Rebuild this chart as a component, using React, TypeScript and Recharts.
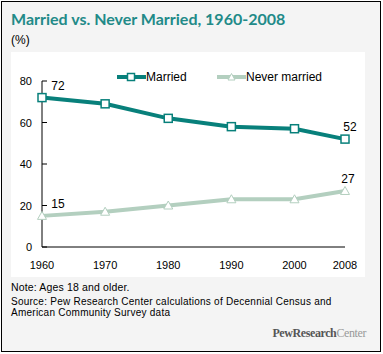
import React from 'react';
import { LineChart, Line, XAxis, YAxis, Legend, LabelList } from 'recharts';

const years = [1960, 1970, 1980, 1990, 2000, 2008];
const married = [72, 69, 62, 58, 57, 52];
const neverMarried = [15, 17, 20, 23, 23, 27];
const yTicks = [0, 20, 40, 60, 80];

const data = years.map((year, i) => ({ year, married: married[i], never: neverMarried[i] }));

const TEAL = '#08807b';
const SAGE = '#b3cfbf';
const FONT = '"Liberation Sans", Arial, sans-serif';

const YTick = (props: any) => {
  const { x, y, payload } = props;
  return (
    <g>
      <line x1={x} x2={x + 5} y1={y} y2={y} stroke="#000" strokeWidth={1} />
      <text x={x - 10} y={y} dy={4} textAnchor="end" fontSize={11} fontFamily={FONT} fill="#000">
        {payload.value}
      </text>
    </g>
  );
};

const XTick = (props: any) => {
  const { x, y, payload } = props;
  return (
    <text x={x} y={y + 22} textAnchor="middle" fontSize={11} fontFamily={FONT} fill="#000">
      {payload.value}
    </text>
  );
};

const SquareDot = (props: any) => {
  const { cx, cy, index } = props;
  return <rect key={index} x={cx - 4} y={cy - 4} width={8} height={8} fill="#fff" stroke={TEAL} strokeWidth={1.5} />;
};

const TriangleDot = (props: any) => {
  const { cx, cy, index } = props;
  return (
    <path
      key={index}
      d={`M${cx},${cy - 4.5} L${cx + 4.5},${cy + 3.5} L${cx - 4.5},${cy + 3.5} Z`}
      fill="#fff"
      stroke={SAGE}
      strokeWidth={1}
    />
  );
};

const endLabel = (offsets: Record<number, [number, number]>) => (props: any) => {
  const { x, y, value, index } = props;
  const off = offsets[index];
  if (!off) return null;
  return (
    <text x={x + off[0]} y={y + off[1]} dy={4} textAnchor="middle" fontSize={12} fontFamily={FONT} fill="#000">
      {value}
    </text>
  );
};

const LegendContent = () => (
  <div style={{ display: 'flex', alignItems: 'center', fontFamily: FONT, fontSize: 12, color: '#000' }}>
    <svg width={29} height={10}>
      <line x1={0} x2={29} y1={5} y2={5} stroke={TEAL} strokeWidth={4} strokeLinecap="round" />
      <rect x={10.5} y={1.5} width={7} height={7} fill="#fff" stroke={TEAL} strokeWidth={1.5} />
    </svg>
    <span style={{ width: 71 }}>Married</span>
    <svg width={29} height={10}>
      <line x1={0} x2={29} y1={5} y2={5} stroke={SAGE} strokeWidth={4} strokeLinecap="round" />
      <path d="M14.5,1.5 L18,8 L11,8 Z" fill="#fff" stroke={SAGE} strokeWidth={1} />
    </svg>
    <span>Never married</span>
  </div>
);

export default function App() {
  return (
    <div
      style={{
        position: 'absolute',
        left: 0,
        top: 0,
        width: 378,
        height: 349,
        margin: 1,
        border: '1px solid #000',
        background: '#f4f4f4',
        fontFamily: FONT,
      }}
    >
      <div
        style={{
          position: 'absolute',
          left: 9,
          top: 7,
          fontFamily: 'Lato, sans-serif',
          fontWeight: 'bold',
          fontSize: 16,
          lineHeight: '19px',
          color: '#228a88',
          whiteSpace: 'nowrap',
        }}
      >
        Married vs. Never Married, 1960-2008
      </div>
      <div style={{ position: 'absolute', left: 9, top: 31, fontSize: 12, color: '#000' }}>(%)</div>
      <div style={{ position: 'absolute', left: 9, top: 50, width: 354, height: 225, background: '#fff' }}>
        <LineChart width={354} height={225} data={data} margin={{ top: 29, right: 20, bottom: 0, left: 1 }}>
          <XAxis
            dataKey="year"
            type="number"
            domain={[1960, 2008]}
            ticks={years}
            axisLine={{ stroke: '#000' }}
            tickLine={false}
            tickSize={0}
            tickMargin={0}
            height={30}
            tick={<XTick />}
            interval={0}
          />
          <YAxis
            domain={[0, 80]}
            ticks={yTicks}
            axisLine={{ stroke: '#000' }}
            tickLine={false}
            tickSize={0}
            tickMargin={0}
            width={30}
            tick={<YTick />}
            interval={0}
          />
          <Legend
            content={<LegendContent />}
            layout="horizontal"
            verticalAlign="middle"
            align="center"
            wrapperStyle={{ position: 'absolute', top: 18, left: 106, width: 240, height: 14 }}
          />
          <Line
            dataKey="married"
            name="Married"
            stroke={TEAL}
            strokeWidth={4}
            dot={<SquareDot />}
            isAnimationActive={false}
          >
            <LabelList dataKey="married" content={endLabel({ 0: [16, -12], 5: [5, -12] })} />
          </Line>
          <Line
            dataKey="never"
            name="Never married"
            stroke={SAGE}
            strokeWidth={4}
            dot={<TriangleDot />}
            isAnimationActive={false}
          >
            <LabelList dataKey="never" content={endLabel({ 0: [16, -12], 5: [3, -12] })} />
          </Line>
        </LineChart>
      </div>
      <div style={{ position: 'absolute', left: 9, top: 279, fontSize: 10.5, lineHeight: '12px', color: '#000', whiteSpace: 'nowrap', letterSpacing: 0.15 }}>
        Note: Ages 18 and older.
      </div>
      <div style={{ position: 'absolute', left: 9, top: 294, fontSize: 10, lineHeight: '11px', color: '#000', whiteSpace: 'nowrap', letterSpacing: 0.25 }}>
        Source: Pew Research Center calculations of Decennial Census and
        <br />
        American Community Survey data
      </div>
      <div
        style={{
          position: 'absolute',
          right: 14,
          top: 324,
          fontFamily: '"Liberation Serif", "Times New Roman", serif',
          fontSize: 12,
          letterSpacing: -0.4,
          whiteSpace: 'nowrap',
        }}
      >
        <span style={{ fontWeight: 'bold', color: '#555' }}>PewResearch</span>
        <span style={{ color: '#999' }}>Center</span>
      </div>
    </div>
  );
}
